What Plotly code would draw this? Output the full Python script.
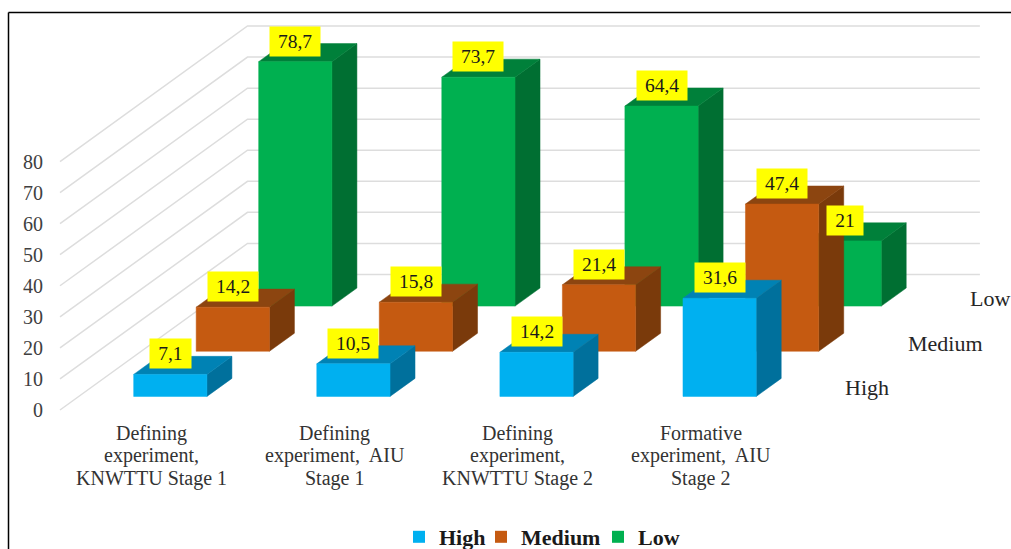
import plotly.graph_objects as go

# Chart data
category_lines = [
    ["Defining", "experiment,", "KNWTTU Stage 1"],
    ["Defining", "experiment,  AIU", "Stage 1"],
    ["Defining", "experiment,", "KNWTTU Stage 2"],
    ["Formative", "experiment,  AIU", "Stage 2"],
]
series_names = ["High", "Medium", "Low"]
high = [7.1, 10.5, 14.2, 31.6]
medium = [14.2, 15.8, 21.4, 47.4]
low = [78.7, 73.7, 64.4, 21]
value_ticks = [0, 10, 20, 30, 40, 50, 60, 70, 80]

front_colors = ["#00B0F0", "#C55A11", "#00B050"]
top_colors = ["#0082B4", "#8C4510", "#00803A"]
side_colors = ["#00709C", "#7A3A0B", "#006F32"]

FONT = "Liberation Serif"

# Page layout, in pixels
WIDTH, HEIGHT = 1011, 549
LEFT, TOP, BOTTOM_EDGE = 47, 14, 420
ORIGIN_X, ORIGIN_Y = 60.0, 410.0
PX_PER_CATEGORY = 183.1
PX_PER_VALUE = 3.106
DEPTH_PX_X, DEPTH_PX_Y = 62.5, 45.17
CATEGORY_LINE_Y = [433, 455.5, 478]
LEGEND_X = [399, 481, 598]
LEGEND_Y = 537

# Oblique projection: depth moves a point right and up on the flat axes
SKEW_X = DEPTH_PX_X / PX_PER_CATEGORY
SKEW_Y = DEPTH_PX_Y / PX_PER_VALUE
BAR_SIZE = 0.4
BAR_GAP = (1 - BAR_SIZE) / 2


def project(cat, depth, value):
    return cat + depth * SKEW_X, value + depth * SKEW_Y


def polygons(faces):
    xs, ys = [], []
    for face in faces:
        for corner in face + face[:1]:
            x, y = project(*corner)
            xs.append(x)
            ys.append(y)
        xs.append(None)
        ys.append(None)
    return xs, ys


def paper_x(px):
    return (px - LEFT) / (WIDTH - LEFT)


def paper_y(px):
    return (BOTTOM_EDGE - px) / (BOTTOM_EDGE - TOP)


fig = go.Figure()

# Wall and floor gridlines
grid_x, grid_y = [], []
for v in value_ticks:
    for corner in [(0, 0, v), (0, 3, v), (4, 3, v)]:
        x, y = project(*corner)
        grid_x.append(x)
        grid_y.append(y)
    grid_x.append(None)
    grid_y.append(None)
fig.add_trace(go.Scatter(x=grid_x, y=grid_y, mode="lines", showlegend=False, hoverinfo="skip",
                         line=dict(color="#DDDDDD", width=1.5)))

# Columns, back row first so the nearer rows cover it
rows = [high, medium, low]
for s in (2, 1, 0):
    d0, d1 = s + BAR_GAP, s + BAR_GAP + BAR_SIZE
    side, top, front = [], [], []
    for c, v in enumerate(rows[s]):
        x0, x1 = c + BAR_GAP, c + BAR_GAP + BAR_SIZE
        front.append([(x0, d0, 0), (x1, d0, 0), (x1, d0, v), (x0, d0, v)])
        top.append([(x0, d0, v), (x1, d0, v), (x1, d1, v), (x0, d1, v)])
        side.append([(x1, d0, 0), (x1, d1, 0), (x1, d1, v), (x1, d0, v)])
    for faces, color in [(side, side_colors[s]), (top, top_colors[s]), (front, front_colors[s])]:
        xs, ys = polygons(faces)
        fig.add_trace(go.Scatter(x=xs, y=ys, mode="lines", fill="toself", fillcolor=color,
                                 line=dict(color=color, width=0.5), showlegend=False,
                                 hoverinfo="skip"))

# Legend entries: one small legend per series so the spacing can be set per item
legend_ids = ["legend", "legend2", "legend3"]
legend_layout = {}
for s, name in enumerate(series_names):
    fig.add_trace(go.Scatter(x=[None], y=[None], mode="markers", name=name, legend=legend_ids[s],
                             marker=dict(symbol="square", size=12, color=front_colors[s])))
    legend_layout[legend_ids[s]] = dict(
        orientation="h", xref="container", yref="container",
        x=LEGEND_X[s] / WIDTH, y=(HEIGHT - LEGEND_Y) / HEIGHT, xanchor="left", yanchor="middle",
        font=dict(family=FONT, size=22, color="#1A1A1A", weight="bold"),
        bgcolor="rgba(0,0,0,0)",
    )

annotations = []

# Value labels above each column
for s, values in enumerate(rows):
    for c, v in enumerate(values):
        label = f"{v:g}".replace(".", ",")
        x, y = project(c + 0.5, s + BAR_GAP, v)
        text_w = sum(4.75 if ch == "," else 9.5 for ch in label)
        annotations.append(dict(x=x, y=y, yshift=20.6, text=label, showarrow=False,
                                bgcolor="#FFFF00", width=text_w + 15, height=27, borderpad=1,
                                font=dict(family=FONT, size=19.5, color="#1A1A1A")))

# Series names along the depth axis
for s, name in enumerate(series_names):
    x, y = project(4, s + 0.5, 0)
    annotations.append(dict(x=x, y=y, xshift=19.5, yshift=-1.5 + (s == 0), xanchor="left", text=name,
                            showarrow=False, font=dict(family=FONT, size=22, color="#262626")))

# Category captions, one text per line for tight leading
for c, lines in enumerate(category_lines):
    for line, line_y in zip(lines, CATEGORY_LINE_Y):
        annotations.append(dict(x=c + 0.5, xref="x", y=paper_y(line_y), yref="paper",
                                yanchor="middle", text=line, showarrow=False,
                                font=dict(family=FONT, size=20, color="#333333")))

fig.update_layout(
    width=WIDTH, height=HEIGHT, autosize=False,
    margin=dict(l=LEFT, r=0, t=TOP, b=HEIGHT - BOTTOM_EDGE, pad=0),
    paper_bgcolor="white", plot_bgcolor="white",
    annotations=annotations,
    shapes=[
        dict(type="line", xref="paper", yref="paper", x0=paper_x(8.5), x1=1,
             y0=paper_y(12.5), y1=paper_y(12.5), line=dict(color="black", width=1.5)),
        dict(type="line", xref="paper", yref="paper", x0=paper_x(8.5), x1=paper_x(8.5),
             y0=paper_y(12.5), y1=paper_y(549), line=dict(color="black", width=1.5)),
    ],
    xaxis=dict(range=[(LEFT - ORIGIN_X) / PX_PER_CATEGORY, (WIDTH - ORIGIN_X) / PX_PER_CATEGORY],
               showticklabels=False, showgrid=False, zeroline=False, showline=False, ticks=""),
    yaxis=dict(range=[(ORIGIN_Y - BOTTOM_EDGE) / PX_PER_VALUE, (ORIGIN_Y - TOP) / PX_PER_VALUE],
               tickmode="array", tickvals=value_ticks, ticklabelstandoff=3,
               showgrid=False, zeroline=False, showline=False, ticks="",
               tickfont=dict(family=FONT, size=20, color="#404040")),
    **legend_layout,
)

fig.write_html("out.html")
